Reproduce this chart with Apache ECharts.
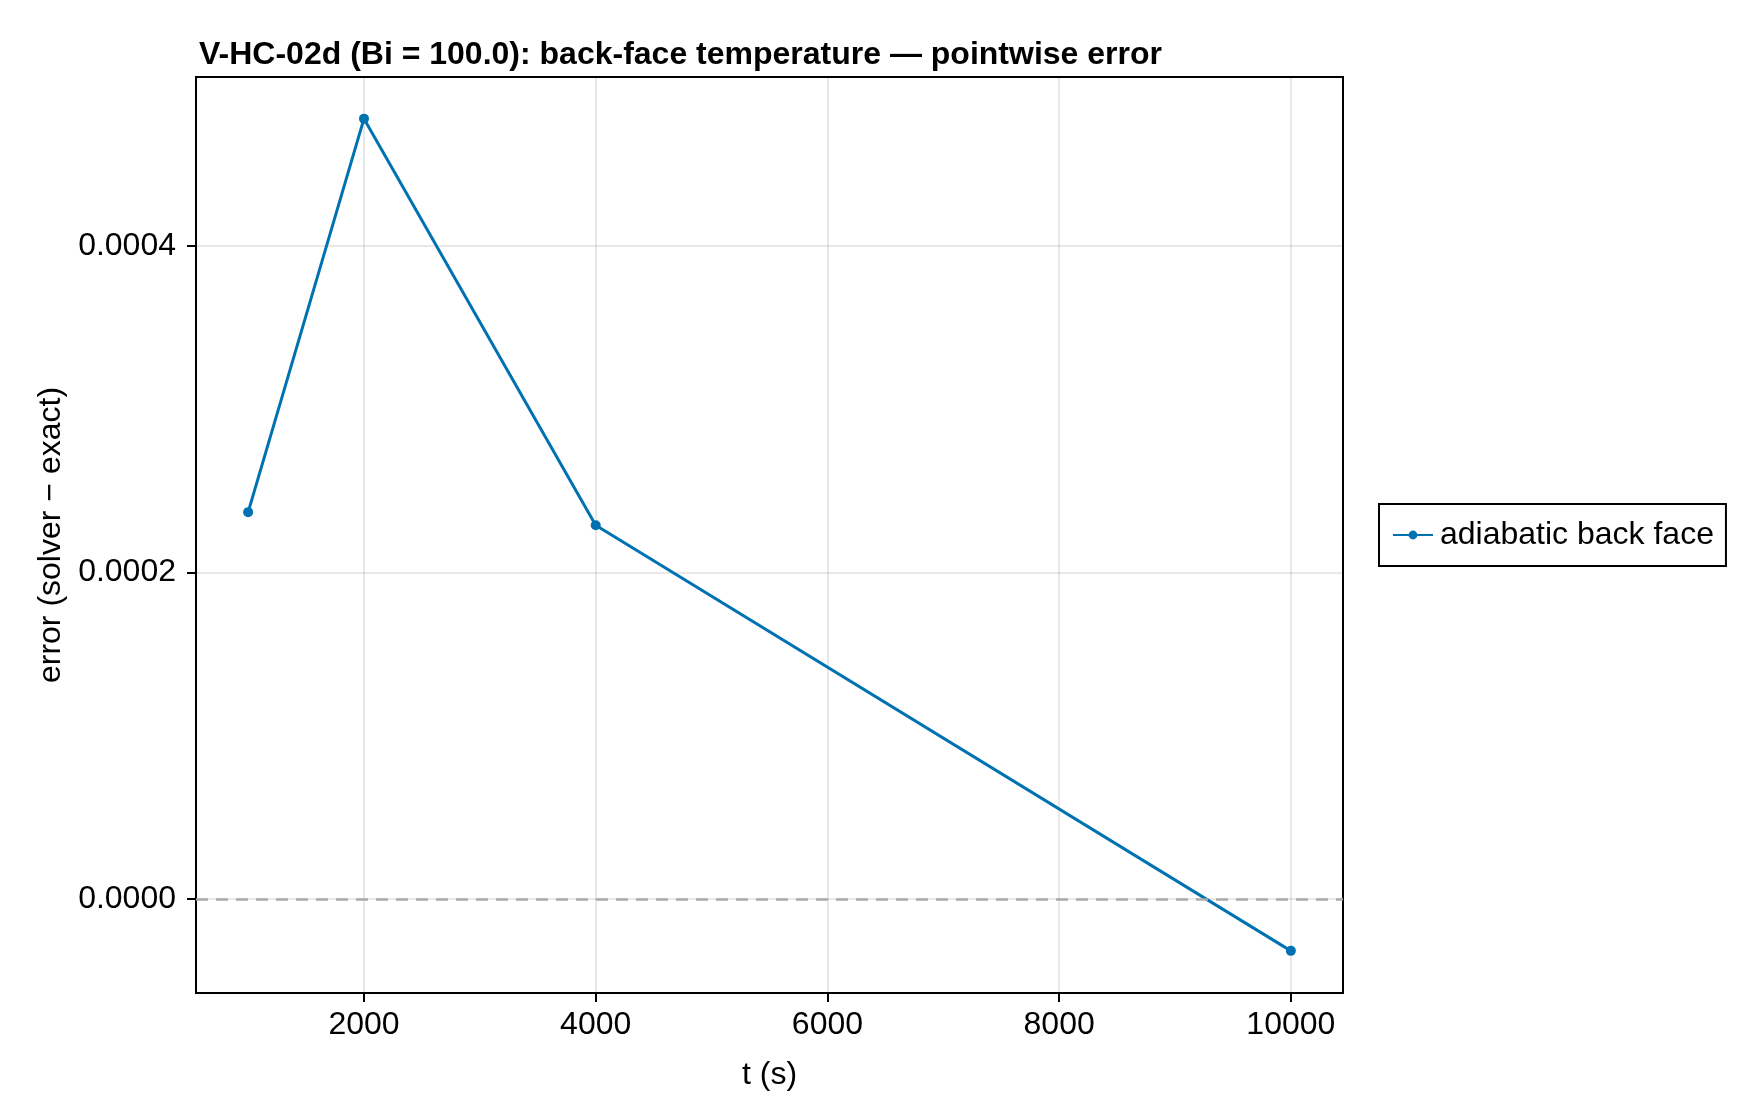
<!DOCTYPE html>
<html>
<head>
<meta charset="utf-8">
<script src="https://cdn.jsdelivr.net/npm/echarts@6/dist/echarts.min.js"></script>
<style>
  html, body { margin: 0; padding: 0; background: #fff; }
  #chart { width: 1760px; height: 1120px; }
</style>
</head>
<body>
<div id="chart"></div>
<script>
const times = [1000, 2000, 4000, 10000];
const errors = [0.000237, 0.000478, 0.000229, -0.0000317];
const xTicks = [2000, 4000, 6000, 8000, 10000];
const yTicks = [0, 0.0002, 0.0004];

const blue = "#0072b2";
const font = "'Liberation Sans', Arial, sans-serif";

let chart = echarts.init(document.getElementById("chart"));

let option = {
  animation: false,
  backgroundColor: "#fff",
  textStyle: { fontFamily: font },
  title: {
    text: "V-HC-02d (Bi = 100.0): back-face temperature — pointwise error",
    left: 194,
    top: 34,
    textStyle: { fontSize: 32, fontWeight: "bold", color: "#000", fontFamily: font },
  },
  grid: {
    left: 196,
    right: 417,
    top: 77,
    bottom: 127,
    show: true,
    borderColor: "#000",
    borderWidth: 2,
    backgroundColor: "transparent",
  },
  legend: {
    data: ["adiabatic back face"],
    left: 1379,
    top: 504,
    orient: "vertical",
    borderColor: "#000",
    borderWidth: 2,
    borderRadius: 0,
    padding: [15, 12, 15, 13],
    itemWidth: 40,
    itemHeight: 11,
    itemGap: 8,
    textStyle: { fontSize: 32, color: "#000", fontFamily: font, padding: [0, 0, 0, 2] },
  },
  xAxis: {
    type: "value",
    min: 550,
    max: 10450,
    name: "t (s)",
    nameLocation: "middle",
    nameGap: 66,
    nameTextStyle: { fontSize: 32, color: "#000", fontFamily: font },
    axisLine: { show: true, onZero: false, lineStyle: { color: "#000", width: 2 } },
    axisTick: { show: true, inside: false, length: 9, customValues: xTicks, lineStyle: { color: "#000", width: 2 } },
    axisLabel: {
      customValues: xTicks,
      margin: 16,
      fontSize: 32,
      color: "#000",
      fontFamily: font,
      formatter: (v) => String(v),
    },
    splitLine: { show: true, lineStyle: { color: "rgba(0,0,0,0.12)", width: 1.5 } },
  },
  yAxis: {
    type: "value",
    min: -0.0000575,
    max: 0.0005035,
    name: "error (solver − exact)",
    nameLocation: "middle",
    nameGap: 127,
    nameTextStyle: { fontSize: 32, color: "#000", fontFamily: font },
    axisLine: { show: true, onZero: false, lineStyle: { color: "#000", width: 2 } },
    axisTick: { show: true, inside: false, length: 9, customValues: yTicks, lineStyle: { color: "#000", width: 2 } },
    axisLabel: {
      customValues: yTicks,
      margin: 20,
      fontSize: 32,
      color: "#000",
      fontFamily: font,
      formatter: (v) => v.toFixed(4),
    },
    splitLine: { show: true, lineStyle: { color: "rgba(0,0,0,0.12)", width: 1.5 } },
  },
  series: [
    {
      name: "adiabatic back face",
      type: "line",
      data: times.map((t, i) => [t, errors[i]]),
      symbol: "circle",
      symbolSize: 10,
      showAllSymbol: true,
      lineStyle: { color: blue, width: 3 },
      itemStyle: { color: blue },
      markLine: {
        silent: true,
        symbol: "none",
        label: { show: false },
        lineStyle: { color: "#aaa", type: [12, 8], width: 2.5 },
        data: [{ yAxis: 0 }],
      },
      z: 3,
    },
  ],
};

option && chart.setOption(option);
</script>
</body>
</html>
